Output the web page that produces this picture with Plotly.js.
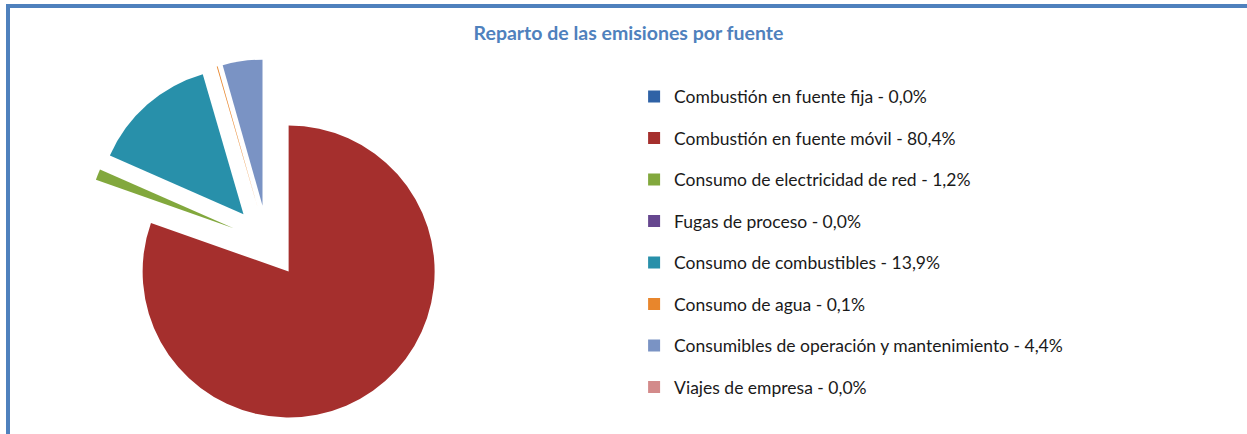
<!DOCTYPE html>
<html>
<head>
<meta charset="utf-8">
<script src="https://cdn.plot.ly/plotly-3.0.1.min.js"></script>
<style>
  html, body { margin: 0; padding: 0; background: #ffffff; }
  #chart { width: 1247px; height: 434px; }
</style>
</head>
<body>
<div id="chart"></div>
<script>
// ---- data ----
const categories = [
  "Combustión en fuente fija",
  "Combustión en fuente móvil",
  "Consumo de electricidad de red",
  "Fugas de proceso",
  "Consumo de combustibles",
  "Consumo de agua",
  "Consumibles de operación y mantenimiento",
  "Viajes de empresa"
];
const shares = [0.0, 80.4, 1.2, 0.0, 13.9, 0.1, 4.4, 0.0];   // % of emissions
const sliceColors = ["#2F62A6", "#A52F2D", "#82A83D", "#66478F", "#2890AA", "#E8862C", "#7A93C4", "#D38A8A"];
const titleText = "Reparto de las emisiones por fuente";

// legend labels built from the data
const fmt = v => v.toFixed(1).replace(".", ",") + "%";
const legendLabels = categories.map((c, i) => c + " - " + fmt(shares[i]));

const pieTrace = {
  type: "pie",
  labels: legendLabels,
  values: shares,
  sort: false,
  direction: "clockwise",
  rotation: 0,
  pull: shares.map(() => 0.25),
  marker: { colors: sliceColors, line: { width: 0 } },
  textinfo: "none",
  hoverinfo: "label",
  showlegend: false,
  domain: { x: [0.0682, 0.3609], y: [0.0224, 0.8634] }
};

// legend entries (one per category, linked to the same colours)
const legendTraces = legendLabels.map((lab, i) => ({
  type: "bar",
  x: [null],
  y: [null],
  name: lab,
  legendgroup: "g" + i,
  marker: { color: sliceColors[i] },
  hoverinfo: "skip",
  showlegend: true
}));

const layout = {
  width: 1247,
  height: 434,
  margin: { l: 0, r: 0, t: 0, b: 0 },
  paper_bgcolor: "#ffffff",
  plot_bgcolor: "#ffffff",
  font: { family: "Lato, 'Open Sans', sans-serif", color: "#1a1a1a" },
  title: {
    text: titleText,
    x: 0.504,
    xanchor: "center",
    xref: "paper",
    y: 0.924,
    yref: "container",
    yanchor: "middle",
    font: { family: "Lato, 'Open Sans', sans-serif", size: 19.5, color: "#4F81BD", weight: "bold" }
  },
  xaxis: { visible: false, showgrid: false, zeroline: false, domain: [0.9, 1] },
  yaxis: { visible: false, showgrid: false, zeroline: false, domain: [0.9, 1] },
  showlegend: true,
  legend: {
    x: 0.5085,
    xanchor: "left",
    y: 0.819,
    yanchor: "top",
    font: { family: "Lato, 'Open Sans', sans-serif", size: 17.5, color: "#1a1a1a" },
    tracegroupgap: 15.75,
    bgcolor: "rgba(0,0,0,0)",
    borderwidth: 0
  },
  shapes: [
    { type: "rect", xref: "paper", yref: "paper", x0: 6/1247, x1: 1, y0: 1 - 8/434, y1: 1 - 4/434,
      fillcolor: "#4F81BD", line: { width: 0 } },
    { type: "rect", xref: "paper", yref: "paper", x0: 6/1247, x1: 10/1247, y0: 0, y1: 1 - 4/434,
      fillcolor: "#4F81BD", line: { width: 0 } }
  ]
};

Plotly.newPlot("chart", [pieTrace].concat(legendTraces), layout, { displayModeBar: false, staticPlot: true });
</script>
</body>
</html>
